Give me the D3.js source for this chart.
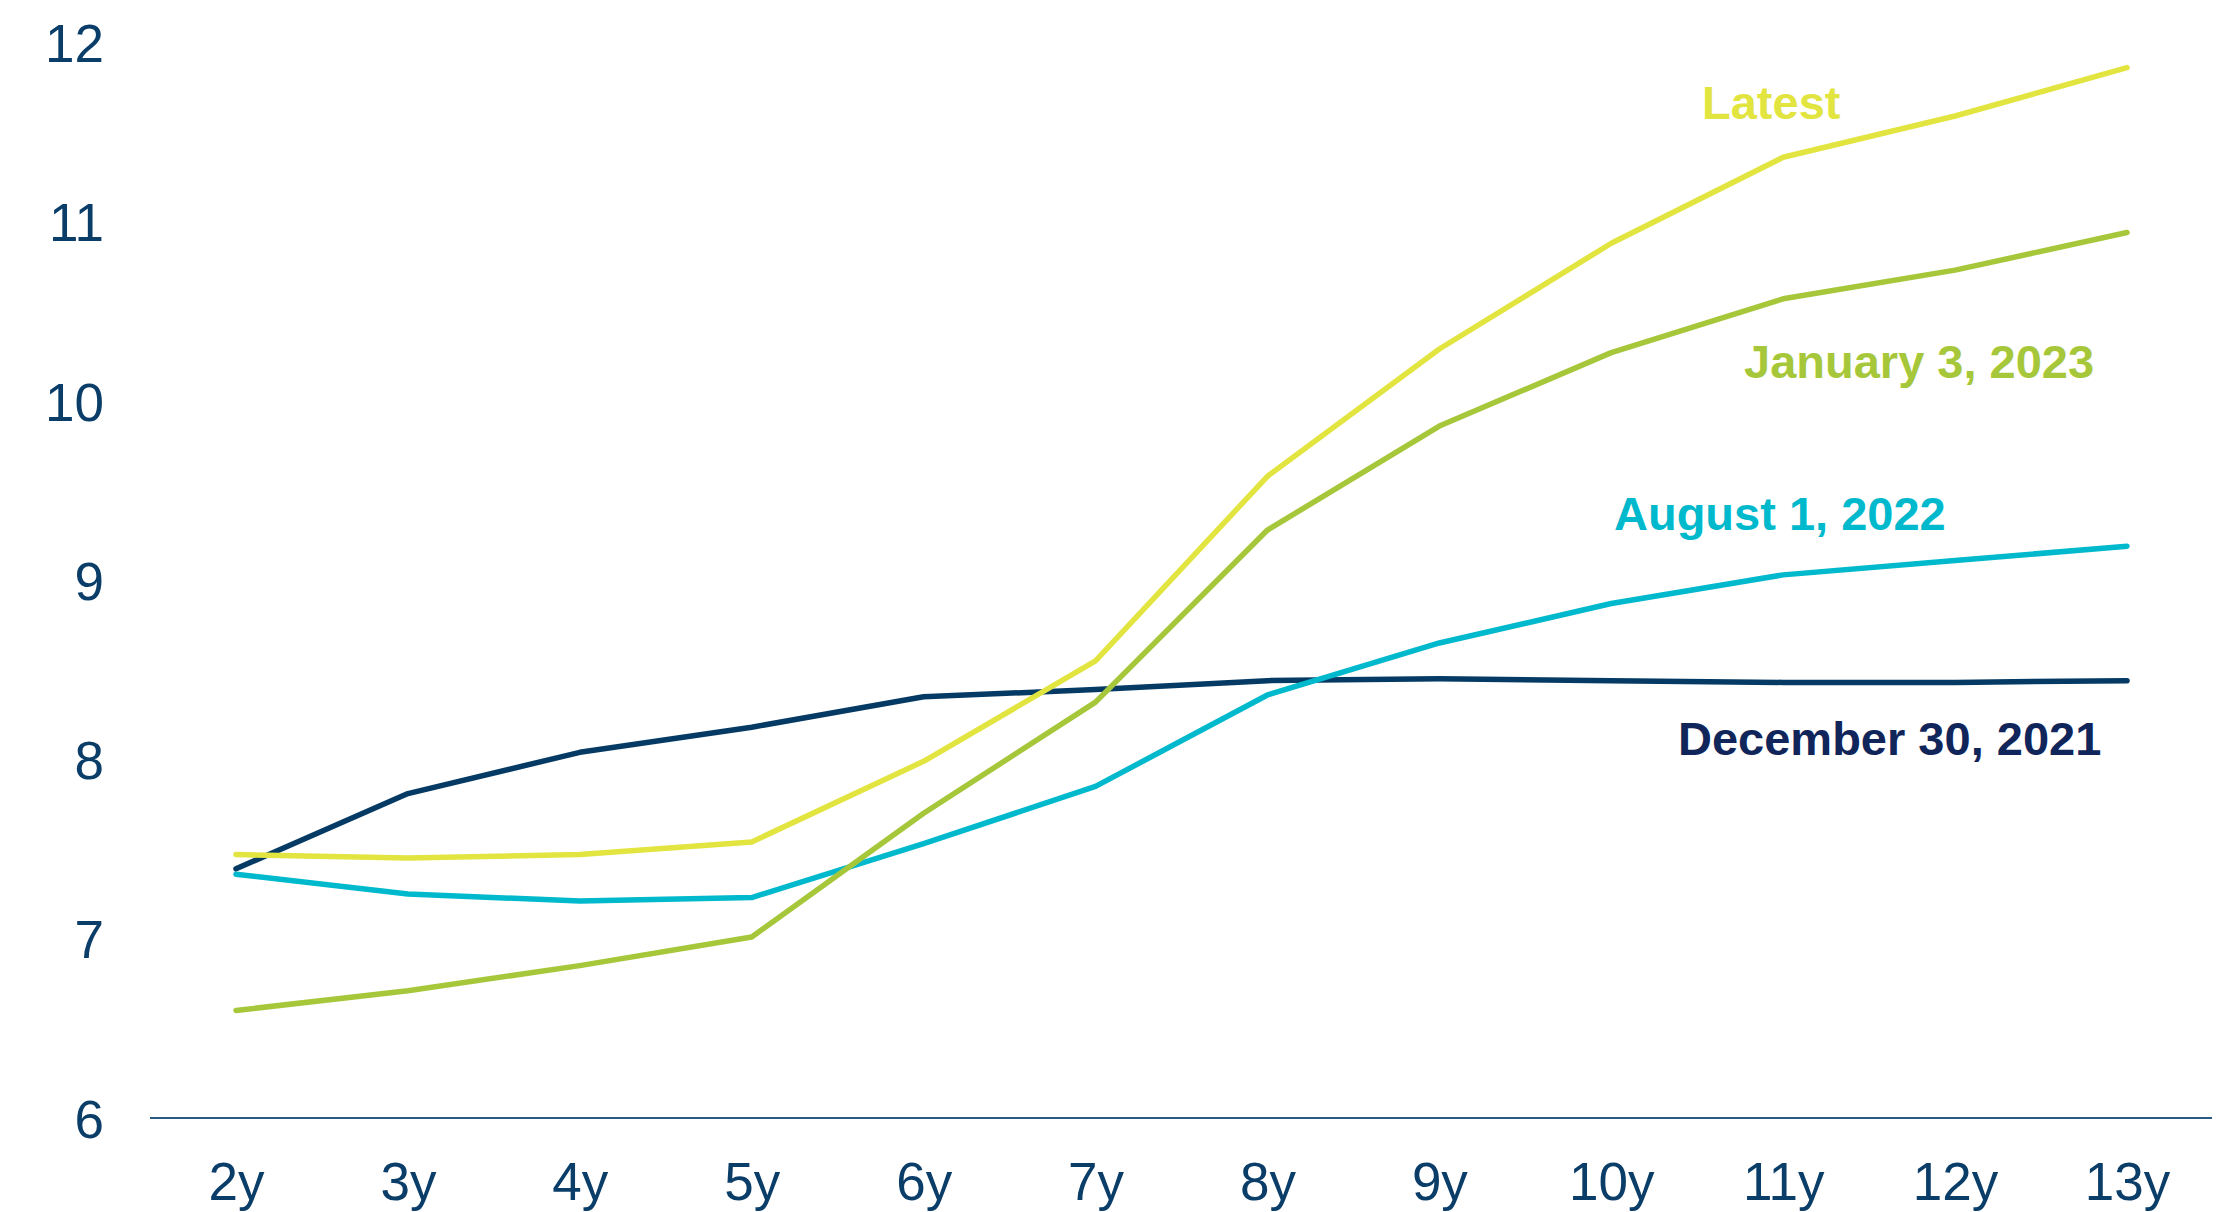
<!DOCTYPE html>
<html>
<head>
<meta charset="utf-8">
<script src="https://cdn.jsdelivr.net/npm/d3@7"></script>
<style>
    html, body { margin: 0; padding: 0; background: #ffffff; }
    svg { display: block; font-family: "Liberation Sans", Arial, sans-serif; }
    .tick text { fill: #0b3d69; font-size: 53px; }
    .series-label { font-weight: bold; font-size: 47px; }
</style>
</head>
<body>
<div id="chart"></div>
<script>
// tenors along the bottom
var tenors = ["2y", "3y", "4y", "5y", "6y", "7y", "8y", "9y", "10y", "11y", "12y", "13y"];
var yTicks = [6, 7, 8, 9, 10, 11, 12];

// curves
var latest = [7.47, 7.45, 7.47, 7.54, 7.99, 8.55, 9.58, 10.29, 10.88, 11.36, 11.59, 11.86];
var jan2023 = [6.60, 6.71, 6.85, 7.01, 7.70, 8.32, 9.28, 9.86, 10.27, 10.57, 10.73, 10.94];
var aug2022 = [7.36, 7.25, 7.21, 7.23, 7.53, 7.85, 8.36, 8.65, 8.87, 9.03, 9.11, 9.19];
var dec2021 = [7.39, 7.81, 8.04, 8.18, 8.35, 8.39, 8.44, 8.45, 8.44, 8.43, 8.43, 8.44];

var seriesNames = ["December 30, 2021", "August 1, 2022", "January 3, 2023", "Latest"];
var seriesValues = [dec2021, aug2022, jan2023, latest];

var width = 2228,
    height = 1212;

var lineColors = {
    "Latest": "#e2e440",
    "January 3, 2023": "#a7c73b",
    "August 1, 2022": "#00b9cc",
    "December 30, 2021": "#053a64"
};
var textColors = {
    "Latest": "#e2e440",
    "January 3, 2023": "#a7c73b",
    "August 1, 2022": "#00b9cc",
    "December 30, 2021": "#10255a"
};
// where each label sits (left edge, baseline)
var labelPos = {
    "Latest": [1702, 119],
    "January 3, 2023": [1744, 378],
    "August 1, 2022": [1614, 530],
    "December 30, 2021": [1678, 755]
};

var svg = d3.select("#chart").append("svg")
    .attr("width", width)
    .attr("height", height);

var x = d3.scalePoint()
    .domain(tenors)
    .range([236, 2127]);

var y = d3.scaleLinear()
    .domain([6, 12])
    .range([1118, 42.5]);

// baseline rule
svg.append("line")
    .attr("x1", 150)
    .attr("x2", 2212)
    .attr("y1", y(6))
    .attr("y2", y(6))
    .attr("stroke", "#2a5a86")
    .attr("stroke-width", 2);

var yAxis = d3.axisLeft(y)
    .tickValues(yTicks)
    .tickSize(0)
    .tickPadding(0)
    .tickFormat(d3.format("d"));

var gY = svg.append("g")
    .attr("transform", "translate(104,0)")
    .call(yAxis);
gY.select(".domain").remove();
gY.selectAll("text").attr("dy", "0.36em");

var xAxis = d3.axisBottom(x)
    .tickSize(0)
    .tickPadding(44);

var gX = svg.append("g")
    .attr("transform", "translate(0," + y(6) + ")")
    .call(xAxis);
gX.select(".domain").remove();

var line = d3.line()
    .x(function (d, i) { return x(tenors[i]); })
    .y(function (d) { return y(d); });

var series = seriesNames.map(function (name, i) {
    return { name: name, values: seriesValues[i] };
});

svg.append("g")
    .selectAll("path")
    .data(series)
    .enter()
    .append("path")
    .attr("d", function (d) { return line(d.values); })
    .attr("fill", "none")
    .attr("stroke", function (d) { return lineColors[d.name]; })
    .attr("stroke-width", 5.5)
    .attr("stroke-linejoin", "round")
    .attr("stroke-linecap", "round");

svg.append("g")
    .selectAll("text")
    .data(series)
    .enter()
    .append("text")
    .attr("class", "series-label")
    .attr("x", function (d) { return labelPos[d.name][0]; })
    .attr("y", function (d) { return labelPos[d.name][1]; })
    .attr("fill", function (d) { return textColors[d.name]; })
    .text(function (d) { return d.name; });
</script>
</body>
</html>
